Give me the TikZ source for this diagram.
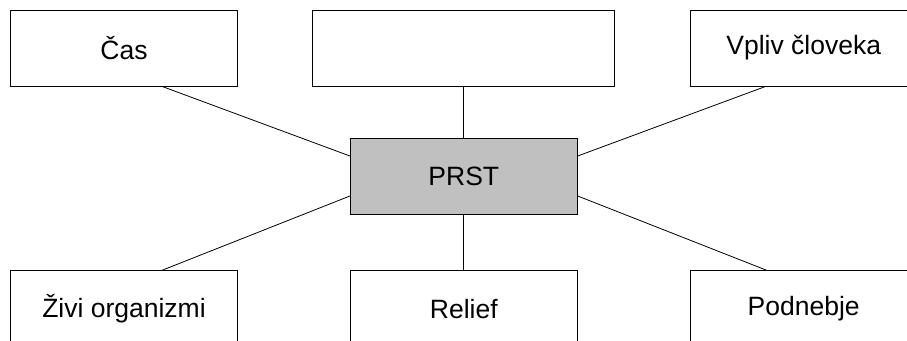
\documentclass[tikz,border=0pt]{standalone}
\usepackage{fontspec}
\setmainfont{Liberation Sans}
\definecolor{prstgray}{RGB}{192,192,192}
\begin{document}
\begin{tikzpicture}[x=1pt, y=-1pt,
    box/.style={draw, line width=0.8pt, minimum width=227pt,
        minimum height=76pt, inner sep=0pt,
        font=\fontsize{26.5}{30}\selectfont},
    link/.style={line width=0.8pt}]

% Page
\clip (0,0) rectangle (907,340);

% Top row
\node[box] (cas) at (124,48) {Čas};
\node[box, minimum width=302pt] (blank) at (463.8,48) {};
\node[box] (vpliv) at (803.7,48) {Vpliv človeka};

% Soil
\node[box, fill=prstgray] (prst) at (463.8,176.5) {PRST};

% Bottom row
\node[box] (zivi) at (124,308.7) {Živi organizmi};
\node[box] (relief) at (463.8,308.7) {Relief};
\node[box] (podnebje) at (803.7,308.7) {Podnebje};

% Links
\draw[link] ([yshift=20.5pt]prst.west) -- ([xshift=38pt]cas.south);
\draw[link] (prst.north) -- (blank.south);
\draw[link] ([yshift=20.5pt]prst.east) -- ([xshift=-38pt]vpliv.south);
\draw[link] ([yshift=-19.5pt]prst.west) -- ([xshift=38pt]zivi.north);
\draw[link] (prst.south) -- (relief.north);
\draw[link] ([yshift=-19.5pt]prst.east) -- ([xshift=-37pt]podnebje.north);
\end{tikzpicture}
\end{document}
